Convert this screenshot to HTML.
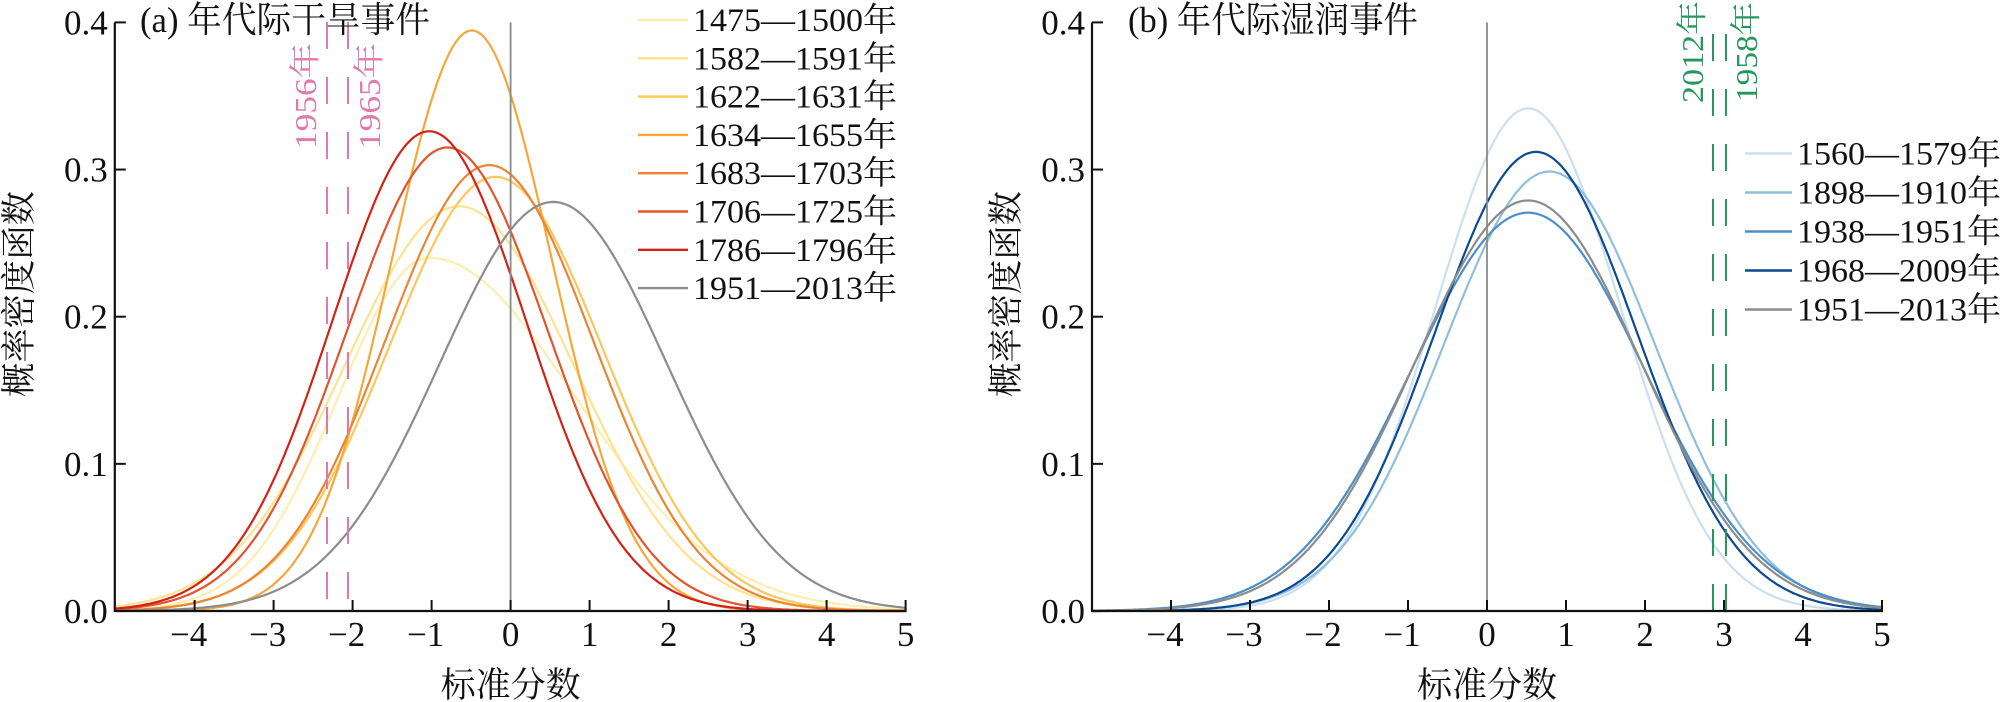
<!DOCTYPE html>
<html><head><meta charset="utf-8"><style>
html,body{margin:0;padding:0;background:#fff;}
svg{display:block;}
text{font-family:"Liberation Serif","Noto Serif CJK SC","Noto Sans CJK SC",serif;fill:#111;}
</style></head><body>
<svg id="s" width="2000" height="702" viewBox="0 0 2000 702" xmlns="http://www.w3.org/2000/svg">
<g id="g"></g>
</svg>
<script>
var NS="http://www.w3.org/2000/svg",g=document.getElementById("g");
function el(t,a,txt){var e=document.createElementNS(NS,t);for(var k in a)e.setAttribute(k,a[k]);if(txt!==undefined)e.textContent=txt;g.appendChild(e);return e;}
var Y0=611,YS=1471.5,XS=79;
function panel(x0,spine,curves,dashes,dcol,title,tx,lx,legY,legs){
  function X(v){return x0+v*XS;} function Y(v){return Y0-v*YS;}
  curves.forEach(function(c){
    var d="";
    for(var v=-5;v<=5.0001;v+=0.02){
      var s=v<c.m?c.sl:c.sr; var y=c.p*Math.exp(-Math.pow((v-c.m)/s,2)/2);
      d+=(d?"L":"M")+X(v).toFixed(1)+" "+Y(y).toFixed(1);
    }
    el("path",{d:d,fill:"none",stroke:c.c,"stroke-width":2.2});
  });
  el("line",{x1:X(0),y1:Y(0.4),x2:X(0),y2:Y0,stroke:"#8a8a8a","stroke-width":1.8});
  dashes.forEach(function(d){
    el("line",{x1:d.x,y1:d.y1,x2:d.x,y2:Y0,stroke:dcol,"stroke-width":2,"stroke-dasharray":"27 28","stroke-dashoffset":d.off||0});
    var t=el("text",{x:0,y:0,"font-size":31,"text-anchor":"middle",fill:dcol,transform:"translate("+d.tx+","+d.ty+") rotate(-90)",textLength:d.tl,lengthAdjust:"spacingAndGlyphs"},d.t);
    t.style.fill=dcol;
  });
  el("line",{x1:spine,y1:Y(0.4),x2:spine,y2:Y0+1,stroke:"#111","stroke-width":2.2});
  el("line",{x1:spine,y1:Y0,x2:X(5)+1,y2:Y0,stroke:"#111","stroke-width":2.2});
  for(var i=0;i<=4;i++){var yy=Y(i/10);
    el("line",{x1:spine,y1:yy,x2:spine+11,y2:yy,stroke:"#111","stroke-width":2});
    el("text",{x:spine-7,y:yy+12,"font-size":35,"text-anchor":"end"},(i/10).toFixed(1));}
  for(var v=-4;v<=5;v++){var xx=X(v);
    el("line",{x1:xx,y1:Y0,x2:xx,y2:Y0-11,stroke:"#111","stroke-width":2});
    el("text",{x:xx-(v<0?6:0),y:646,"font-size":35,"text-anchor":"middle"},(v<0?"\u2212":"")+Math.abs(v));}
  el("text",{x:X(0),y:697,"font-size":35,"text-anchor":"middle"},"标准分数");
  el("text",{x:0,y:0,"font-size":35,"text-anchor":"middle",transform:"translate("+(lx+13)+",294) rotate(-90)",textLength:206,lengthAdjust:"spacingAndGlyphs"},"概率密度函数");
  el("text",{x:tx,y:32,"font-size":36,textLength:290,lengthAdjust:"spacingAndGlyphs"},title);
  legs.forEach(function(l,i){var yy=legY.y+i*legY.d;
    el("line",{x1:legY.x1,y1:yy,x2:legY.x2,y2:yy,stroke:l.c,"stroke-width":2.4});
    el("text",{x:legY.x2+5,y:yy+11,"font-size":33,textLength:204,lengthAdjust:"spacingAndGlyphs"},l.t);});
}
var A=[
 {t:"1475—1500年",c:"#fdeeb0",m:-1.03,p:0.240,sl:1.15,sr:1.85},
 {t:"1582—1591年",c:"#fde38e",m:-0.65,p:0.275,sl:1.45,sr:1.45},
 {t:"1622—1631年",c:"#fcc75a",m:-0.19,p:0.295,sl:1.352,sr:1.352},
 {t:"1634—1655年",c:"#f5a738",m:-0.49,p:0.3945,sl:1.011,sr:1.011},
 {t:"1683—1703年",c:"#ea8535",m:-0.27,p:0.303,sl:1.316,sr:1.316},
 {t:"1706—1725年",c:"#e2542d",m:-0.80,p:0.315,sl:1.267,sr:1.267},
 {t:"1786—1796年",c:"#d42118",m:-1.03,p:0.326,sl:1.223,sr:1.223},
 {t:"1951—2013年",c:"#8c8c8c",m:0.54,p:0.278,sl:1.434,sr:1.434}];
panel(510.6,114.8,A,[
 {x:327,y1:22,tx:316,ty:96,t:"1956年",tl:106},
 {x:348,y1:22,tx:380,ty:96,t:"1965年",tl:106}],"#e07aac","(a) 年代际干旱事件",140,18,{x1:638,x2:688,y:20,d:38.3},A);
var B=[
 {t:"1560—1579年",c:"#cadff0",m:0.52,p:0.3416,sl:1.168,sr:1.168},
 {t:"1898—1910年",c:"#8fbfdf",m:0.79,p:0.2987,sl:1.336,sr:1.336},
 {t:"1938—1951年",c:"#4a8fca",m:0.52,p:0.2707,sl:1.474,sr:1.474},
 {t:"1968—2009年",c:"#0b4a92",m:0.62,p:0.312,sl:1.279,sr:1.279},
 {t:"1951—2013年",c:"#8c8c8c",m:0.52,p:0.279,sl:1.43,sr:1.43}];
panel(1487,1092,B,[
 {x:1713,y1:34,tx:1703,ty:52,t:"2012年",tl:102},
 {x:1726,y1:34,tx:1757,ty:52,t:"1958年",tl:100}],"#22995a","(b) 年代际湿润事件",1128,1005,{x1:1745,x2:1792,y:153.5,d:39},B);
</script>
</body></html>
